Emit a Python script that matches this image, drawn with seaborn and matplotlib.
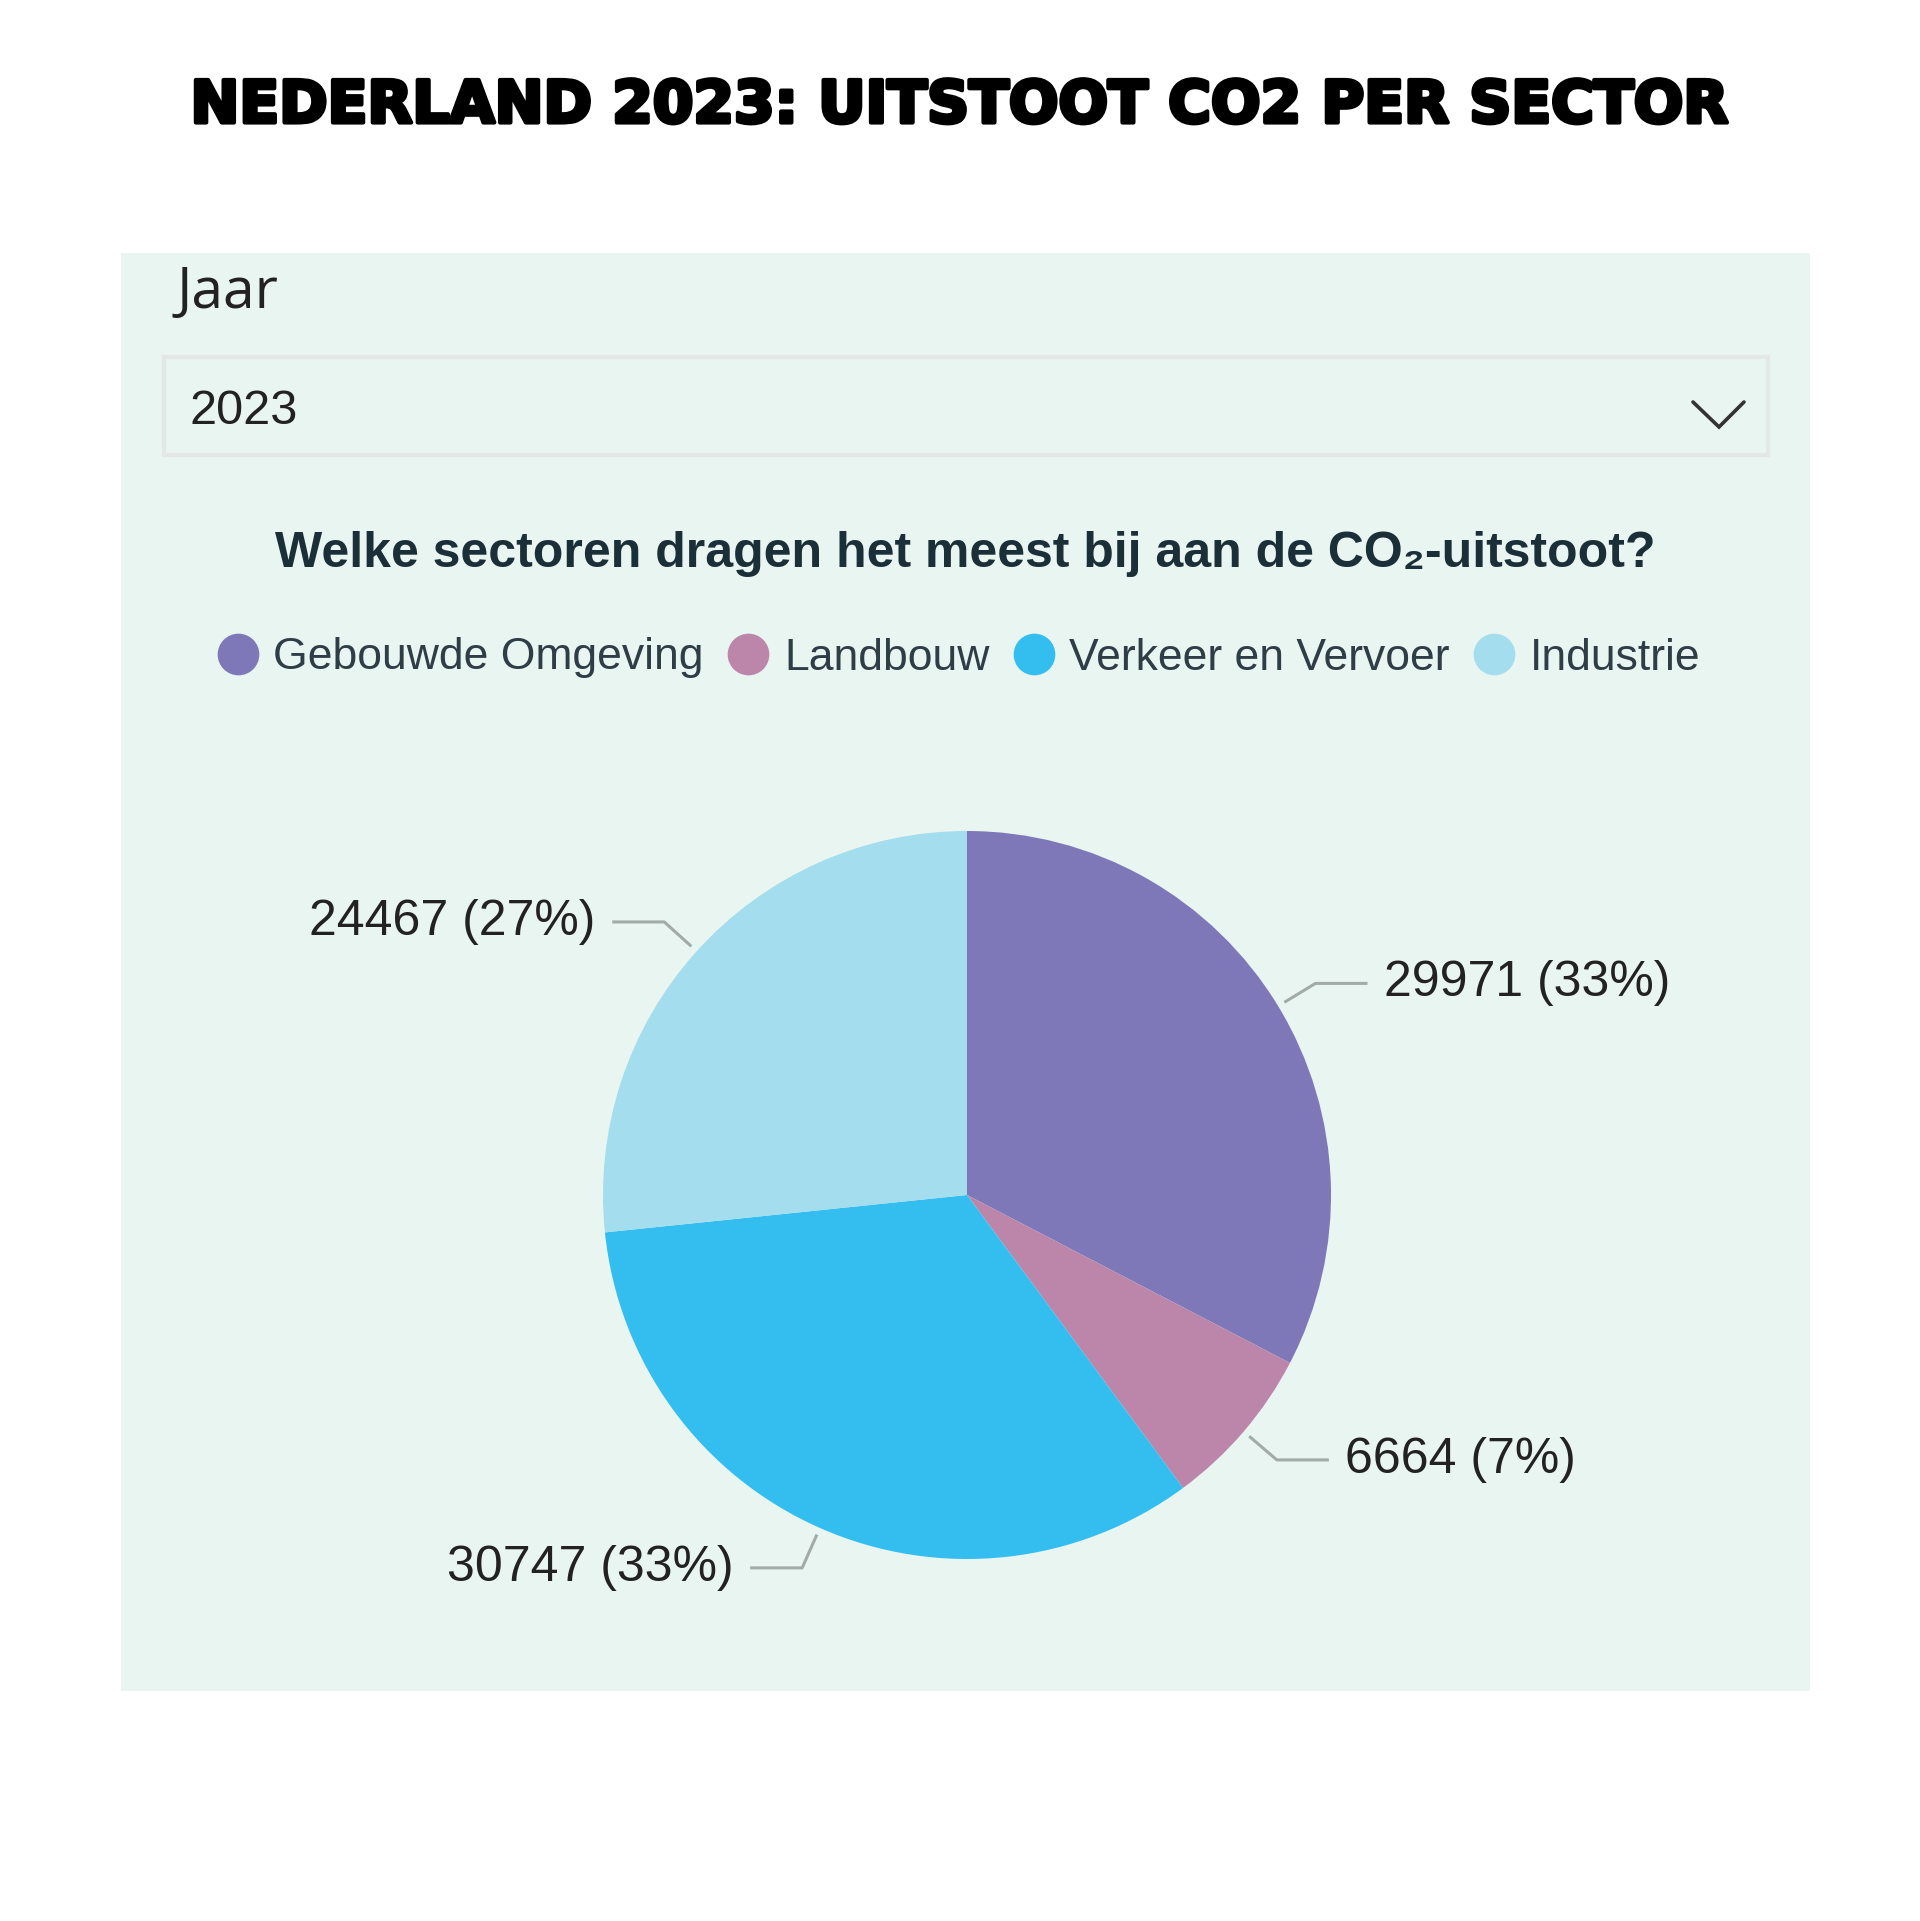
import numpy as np
import matplotlib
matplotlib.use("Agg")
import matplotlib.pyplot as plt
import matplotlib.patheffects as pe
from matplotlib.patches import Rectangle
from matplotlib.lines import Line2D
import seaborn as sns

# data
sectors = ["Gebouwde Omgeving", "Landbouw", "Verkeer en Vervoer", "Industrie"]
uitstoot = [29971, 6664, 30747, 24467]
percent_labels = ["33%", "7%", "33%", "27%"]
colors = ["#7E78B8", "#BB86AA", "#34BEF0", "#A3DDEE"]

title = "NEDERLAND 2023: UITSTOOT CO2 PER SECTOR"
subtitle = "Welke sectoren dragen het meest bij aan de CO\u2082-uitstoot?"
filter_label = "Jaar"
filter_value = "2023"

sns.set_theme(style="white")
plt.rcParams["font.family"] = ["Liberation Sans", "DejaVu Sans"]

W, H = 1920, 1921
fig = plt.figure(figsize=(W / 100, H / 100), dpi=100)
fig.patch.set_facecolor("white")


def fx(x):
    return x / W


def fy(y):
    return 1 - y / H


# panel background (behind the pie axes)
fig.patches.append(Rectangle((fx(121), fy(1691)), (1810 - 121) / W, (1691 - 253) / H,
                             transform=fig.transFigure, facecolor="#E9F5F1",
                             edgecolor="none", zorder=-2))
# dropdown box
fig.patches.append(Rectangle((fx(164), fy(455)), (1768 - 164) / W, (455 - 357) / H,
                             transform=fig.transFigure, facecolor="none",
                             edgecolor="#E3E7E5", lw=3, zorder=-1))
fig.lines.append(Line2D([fx(1693), fx(1719), fx(1744)], [fy(402), fy(427), fy(402)],
                        transform=fig.transFigure, color="#333333", lw=2.6,
                        solid_capstyle="round", solid_joinstyle="miter"))

fig.text(0.5, fy(106), title, ha="center", va="center", fontsize=42,
         fontweight="bold", family="DejaVu Sans", color="#000000",
         path_effects=[pe.withStroke(linewidth=3, foreground="black")])
fig.text(fx(177), fy(293), filter_label, ha="left", va="center", fontsize=41,
         family="Open Sans", color="#222222")
fig.text(fx(189), fy(412), filter_value, ha="left", va="center", fontsize=35,
         color="#222222")
fig.text(fx(965), fy(554), subtitle, ha="center", va="center", fontsize=36,
         fontweight="bold", color="#1B2F38")

# pie axes: center (967, 1195) px, radius 364 px
r_px = 364
cx, cy = 967, 1195
Lx, Ly = 2.4, 1.4
ax = fig.add_axes([fx(cx - Lx * r_px), fy(cy + Ly * r_px), 2 * Lx * r_px / W, 2 * Ly * r_px / H])
ax.set_zorder(1)
ax.patch.set_alpha(0)
wedges, _ = ax.pie(uitstoot, colors=colors, startangle=90, counterclock=False,
                   radius=1, wedgeprops=dict(linewidth=0))
ax.set_xlim(-Lx, Lx)
ax.set_ylim(-Ly, Ly)
ax.set_aspect("equal")
ax.axis("off")

for w, val, pct in zip(wedges, uitstoot, percent_labels):
    ang = np.deg2rad((w.theta1 + w.theta2) / 2)
    c, s = np.cos(ang), np.sin(ang)
    side = 1 if c >= 0 else -1
    p0 = (1.02 * c, 1.02 * s)
    p1 = (1.12 * c, 1.12 * s)
    p2 = (p1[0] + side * 0.143, p1[1])
    ax.plot([p0[0], p1[0], p2[0]], [p0[1], p1[1], p2[1]], color="#A3ABA8", lw=2.2,
            solid_capstyle="butt")
    ax.text(p2[0] + side * 0.045, p2[1], f"{val} ({pct})", ha="left" if side > 0 else "right",
            va="center", fontsize=36, color="#222222")

handles = [Line2D([0], [0], marker="o", linestyle="none", markersize=30,
                  markerfacecolor=c, markeredgecolor="none") for c in colors]
leg = fig.legend(handles, sectors, loc="center", bbox_to_anchor=(fx(958), fy(658)),
                 ncol=4, frameon=False, fontsize=32, handlelength=1.0,
                 handletextpad=0.3, columnspacing=0.5, borderaxespad=0)
for t in leg.get_texts():
    t.set_color("#2F3E46")

fig.savefig("out.png", dpi=100)
